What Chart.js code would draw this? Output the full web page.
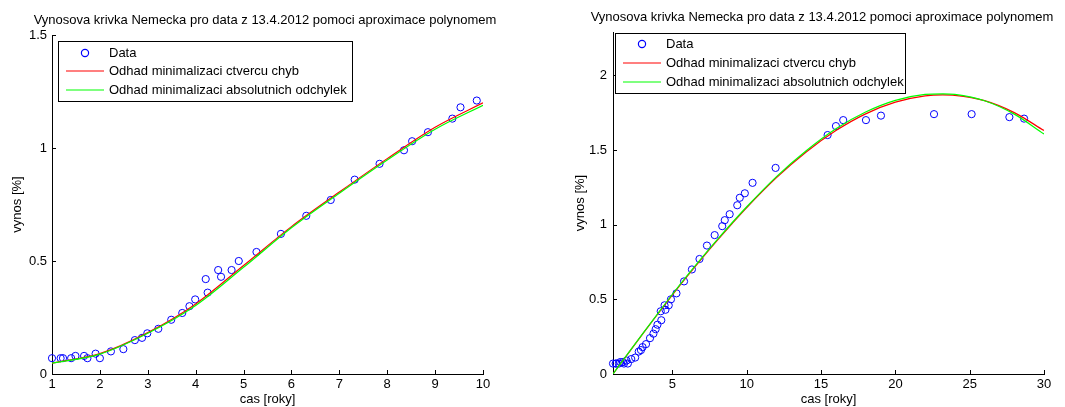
<!DOCTYPE html>
<html>
<head>
<meta charset="utf-8">
<script src="https://cdn.jsdelivr.net/npm/chart.js@4"></script>
<style>
  body { margin: 0; background: #fff; width: 1065px; height: 407px; overflow: hidden; position: relative; }
  .panel { position: absolute; top: 0; }
  #levy { left: 0; }
  #pravy { left: 530px; }
</style>
</head>
<body>
<div class="panel" id="levy"><canvas id="graf-levy" width="530" height="407"></canvas></div>
<div class="panel" id="pravy"><canvas id="graf-pravy" width="535" height="407"></canvas></div>
<script>
// data z 13.4.2012
var cas = [1.00, 1.18, 1.23, 1.40, 1.49, 1.67, 1.74, 1.91, 2.00, 2.23, 2.49, 2.73, 2.88, 2.99, 3.22, 3.49,
           3.72, 3.87, 3.99, 4.21, 4.25, 4.47, 4.53, 4.75, 4.90, 5.27, 5.78, 6.31, 6.82, 7.32, 7.84, 8.35,
           8.52, 8.85, 9.36, 9.53, 9.87, 10.39, 11.94, 15.44, 16.00, 16.49, 18.02, 19.03, 22.60, 25.13, 27.67, 28.66];
var vynos = [0.07, 0.07, 0.07, 0.07, 0.08, 0.08, 0.07, 0.09, 0.07, 0.10, 0.11, 0.15, 0.16, 0.18, 0.20, 0.24,
             0.27, 0.30, 0.33, 0.42, 0.36, 0.46, 0.43, 0.46, 0.50, 0.54, 0.62, 0.70, 0.77, 0.86, 0.93, 0.99,
             1.03, 1.07, 1.13, 1.18, 1.21, 1.28, 1.38, 1.60, 1.66, 1.70, 1.70, 1.73, 1.74, 1.74, 1.72, 1.71];

// odhady polynomem - levy graf (do 10 let)
var levyCas = [1, 2, 3, 4, 5, 6, 7, 8, 9, 10];
var levyCtverce = [0.048, 0.090, 0.183, 0.310, 0.480, 0.652, 0.805, 0.953, 1.092, 1.200];
var levyAbsolutni = [0.048, 0.088, 0.180, 0.303, 0.472, 0.647, 0.800, 0.947, 1.083, 1.189];

// odhady polynomem - pravy graf (do 30 let)
var pravyCas = [1, 2, 3, 4, 5, 6, 7, 8, 9, 10, 12, 14, 16, 18, 20, 22, 23.2, 24, 26, 28, 30];
var pravyCtverce = [0.000, 0.135, 0.268, 0.400, 0.530, 0.655, 0.776, 0.893, 1.006, 1.115, 1.315, 1.487,
                    1.630, 1.742, 1.820, 1.862, 1.869, 1.866, 1.830, 1.750, 1.630];
var pravyAbsolutni = [0.000, 0.136, 0.270, 0.403, 0.534, 0.660, 0.781, 0.898, 1.011, 1.120, 1.322, 1.495,
                      1.642, 1.754, 1.832, 1.872, 1.876, 1.872, 1.830, 1.740, 1.607];

// popisky os
var levyTickyX = [1, 2, 3, 4, 5, 6, 7, 8, 9, 10];
var levyTickyY = [0, 0.5, 1, 1.5];
var pravyTickyX = [5, 10, 15, 20, 25, 30];
var pravyTickyY = [0, 0.5, 1, 1.5, 2];

var nadpis = 'Vynosova krivka Nemecka pro data z 13.4.2012 pomoci aproximace polynomem';
var pismo = '"Liberation Sans", Arial, Helvetica, sans-serif';

Chart.defaults.font.family = pismo;
Chart.defaults.font.size = 13;
Chart.defaults.color = '#000';

function body(xs, ys, maxX) {
  var out = [];
  for (var i = 0; i < xs.length; i++) {
    if (xs[i] <= maxX) out.push({ x: xs[i], y: ys[i] });
  }
  return out;
}

// nadpis, legenda v ramecku a ticky dovnitr (jako v matlabu)
var ramecek = {
  id: 'ramecek',
  afterDraw: function (chart, args, opts) {
    var ctx = chart.ctx;
    var a = chart.chartArea;
    var sx = chart.scales.x, sy = chart.scales.y;
    ctx.save();
    ctx.strokeStyle = '#000';
    ctx.lineWidth = 1;
    ctx.beginPath();
    sx.ticks.forEach(function (t) {
      var p = Math.round(sx.getPixelForValue(t.value)) + 0.5;
      ctx.moveTo(p, a.bottom);
      ctx.lineTo(p, a.bottom - 4);
    });
    sy.ticks.forEach(function (t) {
      var p = Math.round(sy.getPixelForValue(t.value)) + 0.5;
      ctx.moveTo(a.left, p);
      ctx.lineTo(a.left + 4, p);
    });
    ctx.stroke();

    ctx.font = '13px ' + pismo;
    ctx.fillStyle = '#000';
    ctx.textAlign = 'center';
    ctx.textBaseline = 'middle';
    ctx.fillText(opts.text, opts.titleX, opts.titleY);

    var L = opts.legend;
    ctx.fillStyle = '#fff';
    ctx.fillRect(L.x, L.y, L.w, L.h);
    ctx.strokeStyle = '#000';
    ctx.strokeRect(L.x + 0.5, L.y + 0.5, L.w, L.h);
    ctx.textAlign = 'left';
    chart.data.datasets.forEach(function (ds, i) {
      var y = L.y + L.rows[i];
      ctx.strokeStyle = ds.borderColor;
      ctx.lineWidth = 1.2;
      ctx.beginPath();
      if (ds.showLine) {
        ctx.moveTo(L.x + 8, y);
        ctx.lineTo(L.x + 46, y);
      } else {
        ctx.arc(L.x + 27, y, 3.6, 0, Math.PI * 2);
      }
      ctx.stroke();
      ctx.fillStyle = '#000';
      ctx.fillText(ds.label, L.x + 51, y);
    });
    ctx.restore();
  }
};

function graf(id, o) {
  return new Chart(document.getElementById(id), {
    type: 'scatter',
    data: {
      datasets: [{
        label: 'Data',
        data: o.body,
        borderColor: '#0000ff',
        backgroundColor: 'rgba(0,0,0,0)',
        borderWidth: 1,
        pointRadius: 3.6,
        clip: false,
        order: 3
      }, {
        label: 'Odhad minimalizaci ctvercu chyb',
        data: o.ctverce,
        showLine: true,
        borderColor: '#ff0000',
        borderWidth: 1.2,
        pointRadius: 0,
        cubicInterpolationMode: 'monotone',
        order: 2
      }, {
        label: 'Odhad minimalizaci absolutnich odchylek',
        data: o.absolutni,
        showLine: true,
        borderColor: '#00ff00',
        borderWidth: 1.2,
        pointRadius: 0,
        cubicInterpolationMode: 'monotone',
        order: 1
      }]
    },
    options: {
      responsive: false,
      animation: false,
      layout: { padding: o.padding },
      plugins: {
        legend: { display: false },
        tooltip: { enabled: false },
        ramecek: { text: nadpis, titleX: o.titleX, titleY: o.titleY, legend: o.legenda }
      },
      scales: {
        x: {
          type: 'linear',
          min: o.minX, max: o.maxX,
          grid: { display: false, drawTicks: false },
          border: { color: '#000', width: 1 },
          ticks: { padding: 3, autoSkip: false, maxRotation: 0, callback: function (v) { return String(v); } },
          title: { display: true, text: 'cas [roky]', padding: { top: 0, bottom: 0 } },
          afterBuildTicks: function (s) { s.ticks = o.tickyX.map(function (v) { return { value: v }; }); },
          afterFit: function (s) { s.height = 33; }
        },
        y: {
          type: 'linear',
          min: 0, max: o.maxY,
          grid: { display: false, drawTicks: false },
          border: { color: '#000', width: 1 },
          ticks: { padding: o.tickPadY, autoSkip: false, callback: function (v) { return String(v); } },
          title: { display: true, text: 'vynos [%]', padding: { top: o.titlePadY, bottom: 0 } },
          afterBuildTicks: function (s) { s.ticks = o.tickyY.map(function (v) { return { value: v }; }); },
          afterFit: function (s) { s.width = o.sirkaY; }
        }
      }
    },
    plugins: [ramecek]
  });
}

// levy graf - splatnost do 10 let
graf('graf-levy', {
  body: body(cas, vynos, 10),
  ctverce: body(levyCas, levyCtverce, 10),
  absolutni: body(levyCas, levyAbsolutni, 10),
  minX: 1, maxX: 10, maxY: 1.5,
  tickyX: levyTickyX, tickyY: levyTickyY,
  padding: { top: 35, right: 47, left: 0, bottom: 0 },
  sirkaY: 52, tickPadY: 5, titlePadY: 10,
  titleX: 265, titleY: 20,
  legenda: { x: 58, y: 41, w: 294, h: 60, rows: [12, 30, 49] }
});

// pravy graf - cela krivka do 30 let
graf('graf-pravy', {
  body: body(cas, vynos, 30),
  ctverce: body(pravyCas, pravyCtverce, 30),
  absolutni: body(pravyCas, pravyAbsolutni, 30),
  minX: 1, maxX: 30, maxY: 2.29,
  tickyX: pravyTickyX, tickyY: pravyTickyY,
  padding: { top: 32, right: 21, left: 0, bottom: 0 },
  sirkaY: 83, tickPadY: 6, titlePadY: 43,
  titleX: 292, titleY: 17,
  legenda: { x: 85, y: 33, w: 290, h: 60, rows: [11, 30, 49] }
});
</script>
</body>
</html>
